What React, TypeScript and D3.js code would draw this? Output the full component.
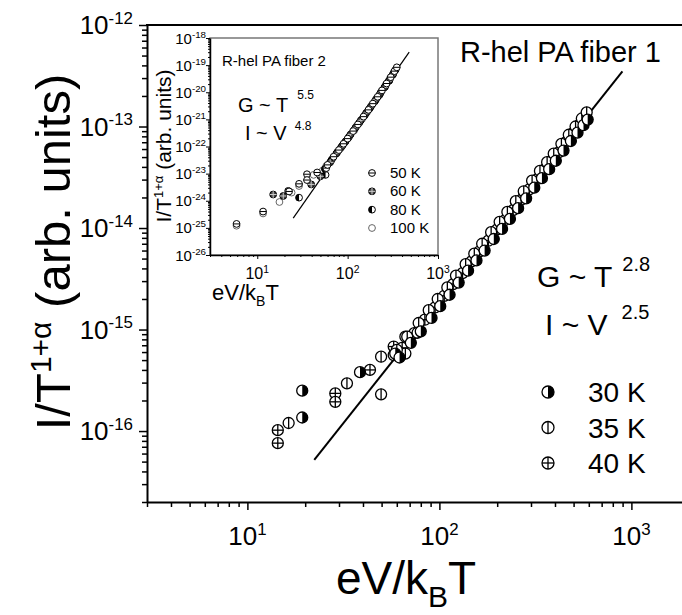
import React, { useEffect, useRef } from 'react';
import * as d3 from 'd3';

// main panel: R-hel PA fiber 1
const mainXTicks = [10, 100, 1000];
const mainYTicks = [1e-16, 1e-15, 1e-14, 1e-13, 1e-12];
const mainFit = [[22.3, 5.2e-17], [898, 3.5e-13]];
const mainLegend = ['30 K', '35 K', '40 K'];

const k30 = [
  [19.3, 2.5e-16], [19.3, 1.36e-16], [38.6, 3.8e-16], [58.9, 5.8e-16], [77, 9.3e-16],
  [62, 5.3e-16], [71, 7.4e-16], [80, 9.6e-16], [91, 1.3e-15], [101, 1.7e-15], [113, 2.2e-15],
  [126, 2.9e-15], [141, 3.8e-15], [156, 4.8e-15], [172, 6.0e-15], [192, 7.8e-15], [212, 9.8e-15],
  [233, 1.23e-14], [257, 1.57e-14], [283, 1.96e-14], [312, 2.5e-14], [342, 3.1e-14], [373, 3.8e-14],
  [404, 4.6e-14], [443, 5.8e-14], [484, 7.2e-14], [524, 8.7e-14], [563, 1.03e-13], [592, 1.17e-13],
];
const k35 = [
  [16.4, 1.2e-16], [33, 2.95e-16], [49.7, 5.4e-16], [49.7, 2.3e-16], [57.8, 5.6e-16], [66.5, 5.8e-16],
  [66.5, 8.5e-16], [60, 6.3e-16], [68, 8.5e-16], [78, 1.16e-15], [88, 1.55e-15], [98, 2.0e-15],
  [110, 2.6e-15], [122, 3.4e-15], [137, 4.4e-15], [152, 5.6e-15], [167, 7.0e-15], [186, 9.1e-15],
  [206, 1.15e-14], [226, 1.44e-14], [250, 1.84e-14], [275, 2.3e-14], [304, 2.93e-14], [334, 3.65e-14],
  [364, 4.45e-14], [394, 5.4e-14], [432, 6.75e-14], [472, 8.3e-14], [512, 1.0e-13], [552, 1.2e-13],
  [585, 1.38e-13],
];
const k40 = [
  [14.4, 1.02e-16], [14.4, 7.6e-17], [28.7, 2.35e-16], [28.7, 1.94e-16], [43.5, 4e-16], [57.8, 6.8e-16],
  [64, 6.6e-16], [74, 9.2e-16], [84, 1.25e-15], [95, 1.65e-15], [106, 2.15e-15], [118, 2.8e-15],
  [132, 3.6e-15], [147, 4.7e-15], [162, 5.9e-15], [180, 7.5e-15], [200, 9.7e-15], [220, 1.2e-14],
  [242, 1.5e-14], [267, 1.9e-14], [294, 2.4e-14], [325, 3.05e-14], [355, 3.8e-14], [386, 4.6e-14],
  [420, 5.6e-14], [460, 7.1e-14], [500, 8.7e-14], [540, 1.05e-13],
];

// inset: R-hel PA fiber 2
const insetXTicks = [10, 100, 1000];
const insetYTicks = [1e-26, 1e-25, 1e-24, 1e-23, 1e-22, 1e-21, 1e-20, 1e-19, 1e-18];
const insetFit = [[25, 2.3e-25], [480, 3.0e-19]];
const insetLegend = ['50 K', '60 K', '80 K', '100 K'];

const k50 = [
  [5.9, 1.4e-25], [11.6, 4e-25], [22.5, 2.2e-24], [29, 4.2e-24], [35.5, 9.5e-24], [35.5, 5.8e-24],
  [46, 1.1e-23], [58, 1.6e-23],
  [60, 2.1e-23], [70, 4.2e-23], [80, 7.4e-23], [90, 1.26e-22], [100, 1.95e-22], [115, 3.7e-22],
  [130, 6.5e-22], [150, 1.26e-21], [170, 2.24e-21], [190, 3.8e-21], [215, 6.8e-21], [240, 1.17e-20],
  [270, 2.1e-20], [300, 3.6e-20], [330, 6.0e-20], [350, 8.3e-20],
];
const k60 = [
  [15, 1.7e-24], [19.4, 1.5e-24], [22, 2.3e-24], [39.5, 4e-24], [50, 8e-24],
  [64, 2.6e-23], [75, 5.5e-23], [85, 9.5e-23], [95, 1.55e-22], [108, 2.8e-22], [122, 4.9e-22],
  [140, 9.2e-22], [160, 1.7e-21], [180, 2.9e-21], [205, 5.3e-21], [230, 9.2e-21], [255, 1.5e-20],
  [285, 2.6e-20], [315, 4.4e-20], [340, 6.8e-20],
];
const k80 = [
  [29, 1.3e-24], [57, 9e-24],
  [56, 1.5e-23], [66, 3.1e-23], [77, 6.2e-23], [88, 1.1e-22], [103, 2.2e-22], [118, 4.0e-22],
  [135, 7.6e-22], [155, 1.42e-21], [175, 2.5e-21], [200, 4.6e-21], [225, 7.9e-21], [260, 1.6e-20],
  [290, 2.7e-20], [320, 4.7e-20],
];
const k100 = [
  [5.9, 1.2e-25], [11.6, 3.4e-25], [17.6, 9e-25], [24, 2e-24], [29, 3.5e-24], [42, 9e-24], [53, 1.3e-23],
  [58, 1.9e-23], [68, 3.6e-23], [83, 8.4e-23], [93, 1.4e-22], [105, 2.45e-22], [125, 5.5e-22],
  [145, 1.05e-21], [165, 1.9e-21], [185, 3.3e-21], [210, 6.0e-21], [235, 1.05e-20], [265, 1.9e-20],
  [295, 3.3e-20], [325, 5.5e-20],
];

const FONT = 'Liberation Sans, Arial, Helvetica, sans-serif';
const isMajor = (d: number) => Math.abs(Math.log10(d) - Math.round(Math.log10(d))) < 1e-6;

function marker(g: any, kind: string, cx: number, cy: number, r: number, sw: number) {
  const m = g.append('g').attr('transform', `translate(${cx},${cy})`);
  const dark = kind === 'crossDark';
  m.append('circle').attr('r', r)
    .attr('fill', dark ? '#444' : 'white')
    .attr('stroke', kind === 'open' ? '#666' : '#000')
    .attr('stroke-width', sw);
  if (kind === 'halfR') m.append('path').attr('d', `M0,${-r}A${r},${r} 0 0 1 0,${r}Z`).attr('fill', '#000');
  if (kind === 'halfL') m.append('path').attr('d', `M0,${-r}A${r},${r} 0 0 0 0,${r}Z`).attr('fill', '#000');
  const lc = dark ? '#ccc' : '#000';
  if (kind === 'vbar' || kind === 'cross' || dark)
    m.append('line').attr('y1', -r).attr('y2', r).attr('stroke', lc).attr('stroke-width', sw);
  if (kind === 'hbar' || kind === 'cross' || dark)
    m.append('line').attr('x1', -r).attr('x2', r).attr('stroke', lc).attr('stroke-width', sw);
}

function pow10(g: any, x: number, y: number, exp: string, size: number, anchor: string) {
  const t = g.append('text').attr('x', x).attr('y', y).attr('text-anchor', anchor).attr('font-size', size);
  t.append('tspan').text('10');
  t.append('tspan').attr('font-size', size * 0.65).attr('dy', -size * 0.4).text(exp);
}

export default function App() {
  const ref = useRef<SVGSVGElement>(null);

  useEffect(() => {
    const svg = d3.select(ref.current);
    svg.selectAll('*').remove();
    const g = svg.append('g').attr('font-family', FONT).attr('fill', '#000');

    // ---- main panel
    const x = d3.scaleLog().domain([3, 2000]).range([147, 147 + 192 * Math.log10(2000 / 3)]);
    const y = d3.scaleLog().domain([2e-17, 1e-12]).range([502, 25]);

    const gx = g.append('g').attr('transform', 'translate(0,502)')
      .call(d3.axisBottom(x).tickValues(x.ticks()).tickSize(5).tickSizeOuter(0).tickFormat(() => ''));
    gx.selectAll('.tick line').attr('y2', (d: any) => (isMajor(d) ? 8 : 5)).attr('stroke-width', 1.5);
    gx.select('.domain').attr('stroke-width', 2);

    const gy = g.append('g').attr('transform', 'translate(147,0)')
      .call(d3.axisLeft(y).tickValues(y.ticks()).tickSize(5).tickSizeOuter(0).tickFormat(() => ''));
    gy.selectAll('.tick line').attr('x2', (d: any) => (isMajor(d) ? -8 : -5)).attr('stroke-width', 1.5);
    gy.select('.domain').attr('stroke-width', 2);

    g.append('line').attr('x1', 146).attr('x2', 690).attr('y1', 25).attr('y2', 25)
      .attr('stroke', '#000').attr('stroke-width', 2);

    mainXTicks.forEach(t => pow10(g, x(t), 545, String(Math.round(Math.log10(t))), 26, 'middle'));
    mainYTicks.forEach(t => pow10(g, 133, y(t) + 9, String(Math.round(Math.log10(t))), 26, 'end'));

    const xt = g.append('text').attr('x', 406).attr('y', 594).attr('text-anchor', 'middle').attr('font-size', 46);
    xt.append('tspan').text('eV/k');
    xt.append('tspan').attr('font-size', 30).attr('dy', 13).text('B');
    xt.append('tspan').attr('dy', -13).text('T');

    const yt = g.append('text').attr('transform', 'translate(70,252) rotate(-90)')
      .attr('text-anchor', 'middle').attr('font-size', 49);
    yt.append('tspan').text('I/T');
    yt.append('tspan').attr('font-size', 30).attr('dy', -19).text('1+\u03b1');
    yt.append('tspan').attr('dy', 19).text(' (arb. units)');

    const line = d3.line<number[]>().x(d => x(d[0])).y(d => y(d[1]));
    g.append('path').attr('d', line(mainFit)).attr('stroke', '#000').attr('stroke-width', 2).attr('fill', 'none');

    const series: [number[][], string][] = [[k40, 'cross'], [k35, 'vbar'], [k30, 'halfR']];
    series.forEach(([data, kind]) => data.forEach(d => marker(g, kind, x(d[0]), y(d[1]), 5.5, 1.3)));

    g.append('text').attr('x', 460).attr('y', 62).attr('font-size', 29).text('R-hel PA fiber 1');
    const gt = g.append('text').attr('x', 537).attr('y', 287).attr('font-size', 30).text('G ~ T');
    gt.append('tspan').attr('font-size', 20).attr('dx', 10).attr('dy', -16).text('2.8');
    const it = g.append('text').attr('x', 545).attr('y', 335).attr('font-size', 30).text('I ~ V');
    it.append('tspan').attr('font-size', 20).attr('dx', 14).attr('dy', -16).text('2.5');

    const legendKinds = ['halfR', 'vbar', 'cross'];
    const legendRows = d3.scalePoint().domain(mainLegend).range([392, 463]);
    mainLegend.forEach((lab, i) => {
      const cy = legendRows(lab) as number;
      marker(g, legendKinds[i], 548, cy, 6, 1.3);
      g.append('text').attr('x', 588).attr('y', cy + 10).attr('font-size', 28).text(lab);
    });

    // ---- inset
    const xi = d3.scaleLog().domain([3, 1000]).range([210, 438]);
    const yi = d3.scaleLog().domain([1e-26, 1e-18]).range([255, 38]);

    g.append('rect').attr('x', 210).attr('y', 38).attr('width', 228).attr('height', 217)
      .attr('fill', 'white').attr('stroke', '#777').attr('stroke-width', 1.5);

    const ix = g.append('g').attr('transform', 'translate(0,255)')
      .call(d3.axisBottom(xi).tickValues(xi.ticks()).tickSize(2).tickSizeOuter(0).tickFormat(() => ''));
    ix.selectAll('.tick line').attr('y2', (d: any) => (isMajor(d) ? 4 : 2));
    ix.select('.domain').attr('stroke-width', 1.5);

    const iyTicks = d3.range(-26, -18).flatMap(e => [2, 3, 4, 5, 6, 7, 8, 9].map(k => k * Math.pow(10, e))).concat(insetYTicks);
    const iy = g.append('g').attr('transform', 'translate(210,0)')
      .call(d3.axisLeft(yi).tickValues(iyTicks).tickSize(2).tickSizeOuter(0).tickFormat(() => ''));
    iy.selectAll('.tick line').attr('x2', (d: any) => (isMajor(d) ? -4 : -2));
    iy.select('.domain').attr('stroke-width', 1.5);

    insetXTicks.forEach(t => pow10(g, xi(t), 279, String(Math.round(Math.log10(t))), 16, 'middle'));
    insetYTicks.forEach(t => pow10(g, 206, yi(t) + 5.5, String(Math.round(Math.log10(t))), 15, 'end'));

    const ixt = g.append('text').attr('x', 212).attr('y', 300).attr('font-size', 22);
    ixt.append('tspan').text('eV/k');
    ixt.append('tspan').attr('font-size', 14).attr('dy', 6).text('B');
    ixt.append('tspan').attr('dy', -6).text('T');

    const iyt = g.append('text').attr('transform', 'translate(171,146) rotate(-90)')
      .attr('text-anchor', 'middle').attr('font-size', 21);
    iyt.append('tspan').text('I/T');
    iyt.append('tspan').attr('font-size', 13).attr('dy', -8).text('1+\u03b1');
    iyt.append('tspan').attr('dy', 8).text(' (arb. units)');

    const iline = d3.line<number[]>().x(d => xi(d[0])).y(d => yi(d[1]));
    g.append('path').attr('d', iline(insetFit)).attr('stroke', '#000').attr('stroke-width', 1.2).attr('fill', 'none');

    const iseries: [number[][], string][] = [[k100, 'open'], [k80, 'halfL'], [k60, 'crossDark'], [k50, 'hbar']];
    iseries.forEach(([data, kind]) => data.forEach(d => marker(g, kind, xi(d[0]), yi(d[1]), 3.4, 1)));

    g.append('text').attr('x', 222).attr('y', 66).attr('font-size', 15).text('R-hel PA fiber 2');
    const igt = g.append('text').attr('x', 238).attr('y', 112).attr('font-size', 20).text('G ~ T');
    igt.append('tspan').attr('font-size', 12).attr('dx', 9).attr('dy', -13).text('5.5');
    const iit = g.append('text').attr('x', 245).attr('y', 140).attr('font-size', 20).text('I ~ V');
    iit.append('tspan').attr('font-size', 12).attr('dx', 8).attr('dy', -10).text('4.8');

    const ilegendKinds = ['hbar', 'crossDark', 'halfL', 'open'];
    const ilegendRows = d3.scalePoint().domain(insetLegend).range([173, 228]);
    insetLegend.forEach((lab, i) => {
      const cy = ilegendRows(lab) as number;
      marker(g, ilegendKinds[i], 372, cy, 3.4, 1);
      g.append('text').attr('x', 390).attr('y', cy + 5).attr('font-size', 15).text(lab);
    });
  }, []);

  return (
    <svg ref={ref} width={682} height={615}
      style={{ position: 'absolute', left: 0, top: 0, background: 'white' }} />
  );
}
